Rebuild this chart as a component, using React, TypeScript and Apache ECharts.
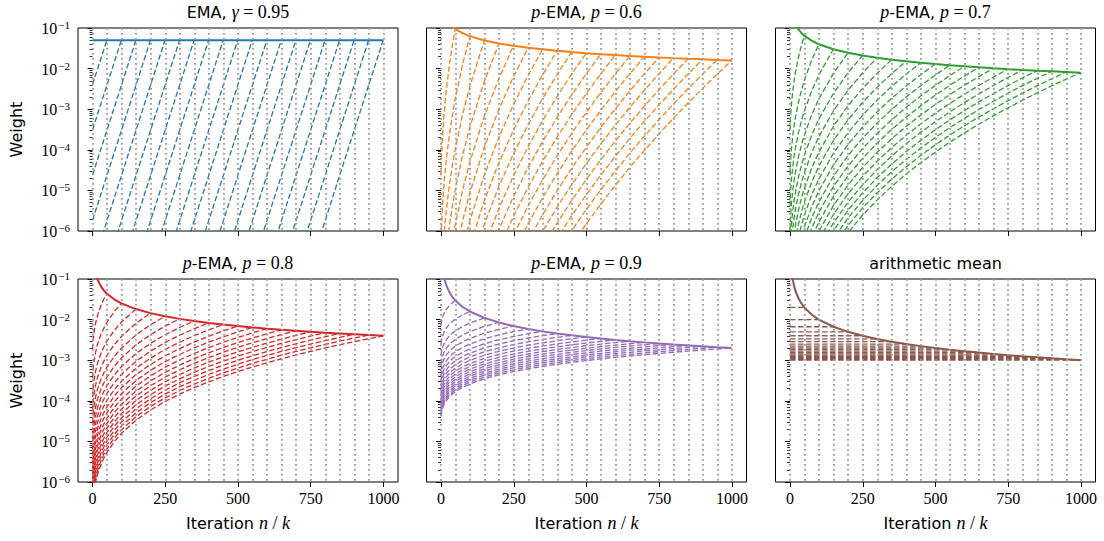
import React, { useEffect, useRef } from "react";
import * as echarts from "echarts";

// Sample positions along the x axis (iteration k)
const kGrid = [0, 1, 2, 3, 4, 5, 9, 14, 19, 29, 39, 49, 74, 99, 149, 199, 249, 299, 349, 399, 449, 499, 549, 599, 649, 699, 749, 799, 849, 899, 949, 999];
// Iterations n at which a dashed weight profile is drawn
const dashedEnds = [49, 99, 149, 199, 249, 299, 349, 399, 449, 499, 549, 599, 649, 699, 749, 799, 849, 899, 949, 999];
const xTicks = [0, 250, 500, 750, 1000];
const yMajor = [1e-6, 1e-5, 1e-4, 1e-3, 1e-2, 1e-1];

// log10 weight profile shape (per k) and offset (per n)
const emaShape = [-1.301, -1.2787, -1.2564, -1.2342, -1.2119, -1.1896, -1.1005, -0.9891, -0.8778, -0.655, -0.4322, -0.2095, 0.3474, 0.9043, 2.0181, 3.1319, 4.2457, 5.3595, 6.4733, 7.5871, 8.7009, 9.8147, 10.9285, 12.0423, 13.1561, 14.2699, 15.3837, 16.4975, 17.6113, 18.7251, 19.8389, 20.9527];
const emaOffset = [0, 0.0223, 0.0446, 0.0668, 0.0891, 0.1114, 0.2005, 0.3119, 0.4232, 0.646, 0.8688, 1.0915, 1.6484, 2.2053, 3.3191, 4.4329, 5.5467, 6.6605, 7.7743, 8.8881, 10.0019, 11.1157, 12.2295, 13.3433, 14.4571, 15.5709, 16.6847, 17.7985, 18.9123, 20.0261, 21.1399, 22.2537];

const p06Shape = [0, 0.2877, 0.4983, 0.6716, 0.8215, 0.9553, 1.392, 1.814, 2.163, 2.734, 3.204, 3.611, 4.454, 5.148, 6.28, 7.208, 8.011, 8.724, 9.37, 9.964, 10.516, 11.033, 11.52, 11.983, 12.423, 12.844, 13.247, 13.635, 14.009, 14.371, 14.72, 15.058];
const p06Offset = [0, 0.4683, 0.7846, 1.0328, 1.2409, 1.4222, 1.992, 2.52, 2.944, 3.62, 4.165, 4.63, 5.579, 6.348, 7.586, 8.589, 9.45, 10.21, 10.896, 11.525, 12.108, 12.652, 13.164, 13.65, 14.111, 14.551, 14.972, 15.377, 15.767, 16.143, 16.507, 16.858];

const p07Shape = [0, 0.2045, 0.3516, 0.471, 0.5732, 0.6637, 0.9539, 1.229, 1.45, 1.806, 2.094, 2.337, 2.833, 3.231, 3.864, 4.37, 4.799, 5.173, 5.509, 5.814, 6.094, 6.354, 6.598, 6.826, 7.043, 7.248, 7.445, 7.633, 7.812, 7.985, 8.152, 8.312];
const p07Offset = [0, 0.4152, 0.6856, 0.8924, 1.0625, 1.2084, 1.6539, 2.052, 2.361, 2.84, 3.215, 3.526, 4.145, 4.631, 5.387, 5.981, 6.477, 6.907, 7.29, 7.635, 7.951, 8.243, 8.516, 8.771, 9.012, 9.24, 9.458, 9.665, 9.863, 10.053, 10.236, 10.412];

const p08Shape = [0, 0.1301, 0.2222, 0.2961, 0.3587, 0.4137, 0.5874, 0.748, 0.876, 1.076, 1.236, 1.369, 1.634, 1.842, 2.165, 2.417, 2.628, 2.808, 2.968, 3.112, 3.243, 3.364, 3.476, 3.58, 3.68, 3.772, 3.861, 3.945, 4.025, 4.101, 4.175, 4.245];
const p08Offset = [0, 0.3709, 0.6039, 0.7777, 0.9179, 1.0362, 1.3874, 1.689, 1.917, 2.258, 2.518, 2.728, 3.134, 3.442, 3.906, 4.258, 4.546, 4.79, 5.003, 5.194, 5.366, 5.523, 5.668, 5.803, 5.93, 6.048, 6.161, 6.267, 6.368, 6.464, 6.557, 6.645];

const p09Shape = [0, 0.0625, 0.106, 0.1406, 0.1697, 0.1949, 0.2738, 0.3452, 0.401, 0.4876, 0.5546, 0.61, 0.7186, 0.802, 0.93, 1.027, 1.107, 1.175, 1.233, 1.286, 1.334, 1.378, 1.418, 1.456, 1.49, 1.523, 1.553, 1.583, 1.612, 1.637, 1.663, 1.687];
const p09Offset = [0, 0.3334, 0.5354, 0.6825, 0.7988, 0.8953, 1.1738, 1.4037, 1.572, 1.817, 1.9965, 2.139, 2.4062, 2.602, 2.888, 3.098, 3.265, 3.404, 3.523, 3.628, 3.722, 3.807, 3.884, 3.956, 4.022, 4.084, 4.141, 4.196, 4.248, 4.296, 4.343, 4.387];

const meanShape = [0, 0, 0, 0, 0, 0, 0, 0, 0, 0, 0, 0, 0, 0, 0, 0, 0, 0, 0, 0, 0, 0, 0, 0, 0, 0, 0, 0, 0, 0, 0, 0];
const meanOffset = [0, 0.301, 0.4771, 0.6021, 0.699, 0.7782, 1.0, 1.1761, 1.301, 1.4771, 1.6021, 1.699, 1.8751, 2.0, 2.1761, 2.301, 2.3979, 2.4771, 2.5441, 2.6021, 2.6532, 2.699, 2.7404, 2.7782, 2.8129, 2.8451, 2.8751, 2.9031, 2.9294, 2.9542, 2.9777, 3.0];

const panelTitles = [
  "{s|EMA, }{i|γ}{r| = 0.95}",
  "{i|p}{s|-EMA, }{i|p}{r| = 0.6}",
  "{i|p}{s|-EMA, }{i|p}{r| = 0.7}",
  "{i|p}{s|-EMA, }{i|p}{r| = 0.8}",
  "{i|p}{s|-EMA, }{i|p}{r| = 0.9}",
  "{s|arithmetic mean}",
];
const panelColors = ["#1f77b4", "#ff7f0e", "#2ca02c", "#d62728", "#9467bd", "#8c564b"];
const panelShapes = [emaShape, p06Shape, p07Shape, p08Shape, p09Shape, meanShape];
const panelOffsets = [emaOffset, p06Offset, p07Offset, p08Offset, p09Offset, meanOffset];

const SANS = '"DejaVu Sans", sans-serif';
const SERIF = '"Liberation Serif", "DejaVu Serif", serif';

const lefts = [78, 426.5, 775.5];
const tops = [28, 279];
const W = 320;
const H = 203;

export default function App() {
  const ref = useRef<HTMLDivElement>(null);

  useEffect(() => {
    document.body.style.margin = "0";
    if (!ref.current) return;
    const chart = echarts.init(ref.current, undefined, { renderer: "svg" });

    const minorTicks: number[] = [];
    for (let d = -6; d <= -2; d++) {
      for (let m = 2; m <= 9; m++) minorTicks.push(m * Math.pow(10, d));
    }

    const grids: any[] = [];
    const xAxes: any[] = [];
    const yAxes: any[] = [];
    const gridX: any[] = [];
    const minorY: any[] = [];
    const series: any[] = [];
    const graphics: any[] = [];

    const titleRich = {
      s: { fontFamily: SANS, fontSize: 16, fill: "#000", color: "#000" },
      i: { fontFamily: SERIF, fontStyle: "italic", fontSize: 18, fill: "#000", color: "#000" },
      r: { fontFamily: SERIF, fontSize: 18, fill: "#000", color: "#000" },
    };

    for (let p = 0; p < 6; p++) {
      const row = Math.floor(p / 3);
      const col = p % 3;
      const left = lefts[col];
      const top = tops[row];
      grids.push({
        left,
        top,
        width: W,
        height: H,
        containLabel: false,
        show: true,
        borderColor: "#000",
        borderWidth: 1,
        backgroundColor: "transparent",
      });
      xAxes.push({
        gridIndex: p,
        type: "value",
        min: -50,
        max: 1050,
        position: "bottom",
        axisLine: { show: false },
        splitLine: { show: false },
        axisTick: { show: true, customValues: xTicks, length: 5, lineStyle: { color: "#000", width: 1 } },
        axisLabel: {
          show: row === 1,
          customValues: xTicks,
          formatter: (v: number) => String(v),
          margin: 8,
          fontFamily: SERIF,
          fontSize: 16,
          color: "#000",
        },
      });
      gridX.push({
        gridIndex: p,
        type: "value",
        min: -50,
        max: 1050,
        interval: 50,
        position: "bottom",
        z: 4,
        axisLine: { show: false },
        axisTick: { show: false },
        axisLabel: { show: false },
        splitLine: {
          show: true,
          showMinLine: false,
          showMaxLine: false,
          lineStyle: { color: "#999999", width: 1.8, type: [1.8, 3.2] },
        },
      });
      yAxes.push({
        gridIndex: p,
        type: "log",
        logBase: 10,
        min: 1e-6,
        max: 1e-1,
        position: "left",
        axisLine: { show: false },
        splitLine: { show: false },
        axisTick: { show: true, customValues: yMajor, length: 5, lineStyle: { color: "#000", width: 1 } },
        axisLabel: {
          show: col === 0,
          customValues: yMajor,
          margin: 8,
          formatter: (v: number) => `{b|10}{s|−${-Math.round(Math.log10(v))}}`,
          rich: {
            b: { fontFamily: SERIF, fontSize: 16, color: "#000", lineHeight: 17, verticalAlign: "bottom" },
            s: { fontFamily: SERIF, fontSize: 11, color: "#000", lineHeight: 11, verticalAlign: "top", padding: [0, 0, 0, 1] },
          },
        },
      });
      minorY.push({
        gridIndex: p,
        type: "log",
        logBase: 10,
        min: 1e-6,
        max: 1e-1,
        position: "left",
        axisLine: { show: false },
        splitLine: { show: false },
        axisLabel: { show: false },
        axisTick: { show: true, customValues: minorTicks, length: 3, lineStyle: { color: "#000", width: 0.8 } },
      });

      const shape = panelShapes[p];
      const offset = panelOffsets[p];
      const color = panelColors[p];
      for (const n of dashedEnds) {
        const idx = kGrid.indexOf(n);
        const data = kGrid.slice(0, idx + 1).map((k, j) => [k, Math.pow(10, shape[j] - offset[idx])]);
        series.push({
          type: "line",
          xAxisIndex: p,
          yAxisIndex: p,
          data,
          showSymbol: false,
          symbol: "none",
          silent: true,
          clip: true,
          z: 2,
          lineStyle: { color, width: 1.3, type: [5.5, 2.5] },
        });
      }
      series.push({
        type: "line",
        xAxisIndex: p,
        yAxisIndex: p,
        data: kGrid.map((k, j) => [k, Math.pow(10, shape[j] - offset[j])]),
        showSymbol: false,
        symbol: "none",
        silent: true,
        clip: true,
        z: 3,
        lineStyle: { color, width: 2 },
      });

      graphics.push({
        type: "text",
        x: left + W / 2,
        y: row === 0 ? 12 : 263,
        style: {
          text: panelTitles[p],
          rich: titleRich,
          align: "center",
          verticalAlign: "middle",
          fill: "#000",
        },
      });
      if (row === 1) {
        graphics.push({
          type: "text",
          x: left + W / 2,
          y: 523,
          style: {
            text: "{s|Iteration }{i|n}{r| / }{i|k}",
            rich: titleRich,
            align: "center",
            verticalAlign: "middle",
            fill: "#000",
          },
        });
      }
      if (col === 0) {
        graphics.push({
          type: "text",
          x: 16,
          y: top + H / 2,
          rotation: Math.PI / 2,
          style: {
            text: "Weight",
            fontFamily: SANS,
            fontSize: 16,
            fill: "#000",
            align: "center",
            verticalAlign: "middle",
          },
        });
      }
    }

    chart.setOption({
      animation: false,
      backgroundColor: "#fff",
      grid: grids,
      xAxis: [...xAxes, ...gridX],
      yAxis: [...yAxes, ...minorY],
      series,
      graphic: graphics,
    });

    return () => chart.dispose();
  }, []);

  return (
    <div
      ref={ref}
      style={{ position: "absolute", left: 0, top: 0, width: 1104, height: 541 }}
    />
  );
}
